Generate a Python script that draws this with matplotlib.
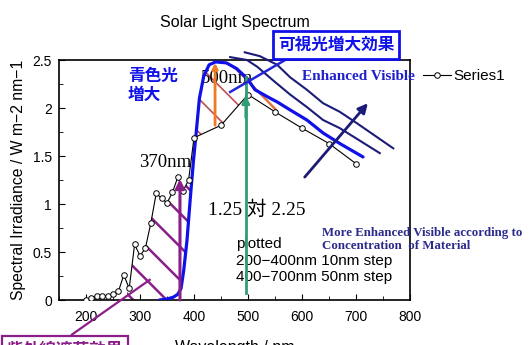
import numpy as np
import matplotlib
matplotlib.use("Agg")
import matplotlib.pyplot as plt

# ---------------- data ----------------
series_x = [200, 210, 220, 230, 240, 250, 260, 270, 280, 290, 300, 310, 320, 330,
            340, 350, 360, 370, 380, 390, 400, 450, 500, 550, 600, 650, 700]
series_y = [0.00, 0.02, 0.045, 0.045, 0.04, 0.06, 0.09, 0.26, 0.12, 0.58, 0.46, 0.54,
            0.80, 1.11, 1.06, 1.01, 1.12, 1.28, 1.14, 1.25, 1.69, 1.82, 2.14, 1.96,
            1.79, 1.63, 1.42]

enh_x = [336, 350, 362, 370, 376, 381, 387, 393, 399, 404, 410, 418, 428, 440, 460, 479,
         498, 513, 535, 555, 578, 609, 639, 670, 713]
enh_y = [0.00, 0.01, 0.03, 0.06, 0.12, 0.31, 0.62, 1.05, 1.45, 1.74, 2.10, 2.33, 2.45,
         2.48, 2.47, 2.41, 2.31, 2.19, 2.12, 2.06, 1.98, 1.875, 1.74, 1.63, 1.49]

more1_x = [494, 522, 554, 578, 609, 639, 670, 702, 769]
more1_y = [2.58, 2.54, 2.45, 2.32, 2.19, 2.05, 1.96, 1.84, 1.58]
more2_x = [467, 498, 517, 546, 578, 609, 639, 670, 744]
more2_y = [2.53, 2.50, 2.43, 2.29, 2.14, 2.01, 1.875, 1.79, 1.53]

x_ticks = [200, 300, 400, 500, 600, 700, 800]
y_ticks = [0, 0.5, 1, 1.5, 2, 2.5]
y_tick_labels = ["0", "0.5", "1", "1.5", "2", "2.5"]

# ---------------- style ----------------
SANS = ["Liberation Sans", "DejaVu Sans"]
SERIF = ["Liberation Serif", "Noto Sans CJK JP"]
CJK = ["Noto Sans CJK JP", "DejaVu Sans"]
plt.rcParams["font.family"] = SANS

PURPLE = "#8a1f8a"
BLUE = "#1010e8"
NAVY = "#1c1c78"
ORANGE = "#f07a22"
GREEN = "#2f9e72"
REDH = "#c05050"

W, H = 529, 345
fig = plt.figure(figsize=(W / 100, H / 100), dpi=100)
ax = fig.add_axes([59 / W, 45 / H, 351 / W, 240 / H])
ax.set_xlim(150, 800)
ax.set_ylim(0, 2.5)

for s in ax.spines.values():
    s.set_linewidth(1.2)
ax.set_xticks(x_ticks)
ax.set_xticks(np.arange(150, 801, 50), minor=True)
ax.set_yticks(y_ticks)
ax.set_yticklabels(y_tick_labels)
ax.set_yticks(np.arange(0, 2.51, 0.25), minor=True)
ax.tick_params(which="both", direction="in", top=False, right=False)
ax.tick_params(which="major", length=4, width=0.8, labelsize=10)
ax.tick_params(which="minor", length=3, width=0.6)
ax.tick_params(axis="x", pad=7)
ax.tick_params(axis="y", pad=5)

ax.set_title("Solar Light Spectrum", fontsize=11.5, pad=24)
ax.set_xlabel("Wavelength / nm", fontsize=11.5, labelpad=12)
ax.set_ylabel("Spectral Irradiance / W m\u22122 nm\u22121", fontsize=11.3, labelpad=5)

# ---------------- hatched regions ----------------
g1 = np.linspace(276, 400, 400)
s1 = np.interp(g1, series_x, series_y)
b1 = np.interp(g1, enh_x, enh_y, left=0.0)
with plt.rc_context({"hatch.linewidth": 1.8}):
    ax.fill_between(g1, b1, s1, where=s1 > b1, interpolate=True,
                    facecolor="none", edgecolor=PURPLE, hatch="\\", linewidth=0, zorder=1)

g2 = np.linspace(400, 553, 400)
s2 = np.interp(g2, series_x, series_y)
b2 = np.interp(g2, enh_x, enh_y)
with plt.rc_context({"hatch.linewidth": 1.2}):
    ax.fill_between(g2, s2, b2, where=b2 > s2, interpolate=True,
                    facecolor="none", edgecolor=REDH, hatch="\\", linewidth=0, zorder=1)

# ---------------- texts behind lines ----------------
ax.text(461, 2.31, "500nm", fontsize=13.5, family=SERIF, ha="center", va="center", zorder=2)
ax.text(346, 1.43, "370nm", fontsize=13.5, family=SERIF, ha="center", va="center", zorder=2)

# ---------------- curves ----------------
series_line, = ax.plot(series_x, series_y, color="black", lw=0.8, marker="o", ms=4,
                       mfc="white", mec="black", mew=0.7, zorder=5, label="Series1")
ax.plot(enh_x, enh_y, color=BLUE, lw=2.3, zorder=4, solid_capstyle="round",
        solid_joinstyle="round")
ax.plot(more1_x, more1_y, color=NAVY, lw=1.5, zorder=4, clip_on=False)
ax.plot(more2_x, more2_y, color=NAVY, lw=1.5, zorder=4, clip_on=False)

# ---------------- arrows and pointer lines ----------------
def arrow(x0, y0, x1, y1, color, lw=2.0, ms=12):
    return ax.annotate("", xy=(x1, y1), xytext=(x0, y0),
                       arrowprops=dict(arrowstyle="-|>", color=color, lw=lw,
                                       mutation_scale=ms, shrinkA=0, shrinkB=0),
                       zorder=6, annotation_clip=False)

arrow(374, 0.0, 374, 1.26, PURPLE, lw=2.2, ms=13)
arrow(439, 1.82, 439, 2.47, ORANGE, lw=2.0, ms=8)
ax.plot([496, 496], [0.07, 2.32], color=GREEN, lw=2.0, zorder=6)
arrow(496, 1.9, 496, 2.13, GREEN, lw=2.0, ms=11)
ax.plot([504, 553], [2.26, 1.97], color="#e8703a", lw=1.5, zorder=3)
arrow(605, 1.28, 722, 2.05, NAVY, lw=2.0, ms=14)
ax.plot([467, 578], [2.167, 2.53], color="#2424d8", lw=1.8, zorder=6, clip_on=False)
ax.plot([174, 318], [-0.36, 0.21], color=PURPLE, lw=1.6, zorder=6, clip_on=False)

# ---------------- annotation texts ----------------
ax.text(517, 0.94, "1.25 \u5bfe 2.25", fontsize=14, family=SERIF, ha="center", va="center")
ax.text(478, 0.41, "plotted\n200\u2212400nm 10nm step\n400\u2212700nm 50nm step",
        fontsize=11, ha="left", va="center", linespacing=1.25)
ax.text(278, 2.43, "青色光\n増大", fontsize=12, family=CJK, fontweight="bold",
        color=BLUE, ha="left", va="top", linespacing=1.05)

fig.text(302 / W, 1 - 76 / H, "Enhanced Visible", fontsize=11, family=SERIF,
         fontweight="bold", color="#2020cc", ha="left", va="center")
fig.text(322 / W, 1 - 239.5 / H,
         "More Enhanced Visible according to\nConcentration  of Material",
         fontsize=9.3, family=SERIF, fontweight="bold", color="#2b2b8c",
         ha="left", va="center", linespacing=1.15)

fig.text(336 / W, 1 - 45 / H, "可視光増大効果", fontsize=12, family=CJK,
         fontweight="bold", color=BLUE, ha="center", va="center",
         bbox=dict(boxstyle="square,pad=0.3", fc="white", ec=BLUE, lw=2))
fig.text(65 / W, 1 - 350 / H, "紫外線遮蔽効果", fontsize=12, family=CJK,
         fontweight="bold", color=PURPLE, ha="center", va="center",
         bbox=dict(boxstyle="square,pad=0.3", fc="white", ec=PURPLE, lw=1.6))

# ---------------- legend ----------------
ax.legend(handles=[series_line], labels=["Series1"], loc="center left",
          bbox_to_anchor=(423 / W, 1 - 76 / H), bbox_transform=fig.transFigure,
          frameon=False, fontsize=11, handlelength=1.8, handletextpad=0.2,
          borderpad=0, borderaxespad=0, numpoints=1)

fig.savefig("out.png", dpi=100)
